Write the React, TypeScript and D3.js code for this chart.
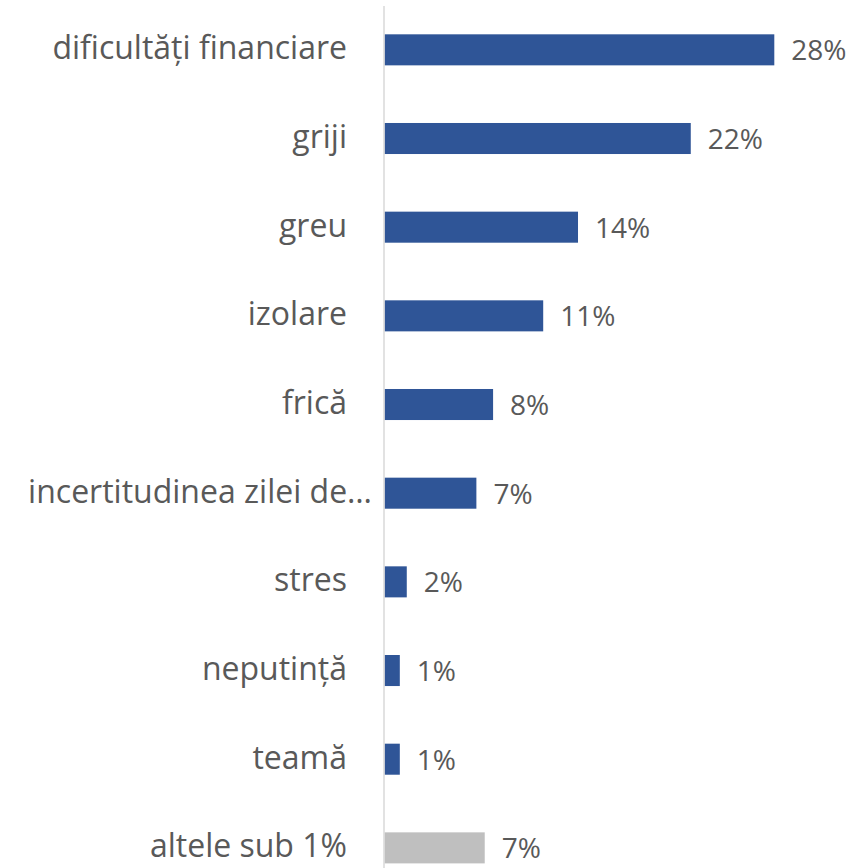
import React from "react";
import * as d3 from "d3";

const categories = [
  "dificultăți financiare",
  "griji",
  "greu",
  "izolare",
  "frică",
  "incertitudinea zilei de…",
  "stres",
  "neputință",
  "teamă",
  "altele sub 1%",
];
const values = [28.0, 22.0, 13.9, 11.4, 7.8, 6.6, 1.6, 1.1, 1.1, 7.2];
const valueLabels = ["28%", "22%", "14%", "11%", "8%", "7%", "2%", "1%", "1%", "7%"];
const isOther = [false, false, false, false, false, false, false, false, false, true];

const W = 849;
const H = 868;

export default function App() {
  const x = d3.scaleLinear().domain([0, 28]).range([384.5, 774.3]);
  const y = d3
    .scaleBand<number>()
    .domain(d3.range(categories.length))
    .range([5.5, 5.5 + 88.67 * categories.length])
    .paddingInner(0.65)
    .paddingOuter(0.325);
  const font = "'Open Sans', sans-serif";
  return (
    <svg
      width={W}
      height={H}
      style={{ position: "absolute", left: 0, top: 0, background: "#fff", fontVariantLigatures: "none" }}
      fontFamily={font}
    >
      {values.map((v, i) => {
        const yc = (y(i) as number) + y.bandwidth() / 2;
        const truncated = categories[i].endsWith("…");
        return (
          <g key={i}>
            <rect
              x={x(0)}
              y={y(i)}
              width={x(v) - x(0)}
              height={y.bandwidth()}
              fill={isOther[i] ? "#BFBFBF" : "#2F5597"}
            />
            <text
              x={x(v) + 17}
              y={yc + 10.5}
              fontSize={28}
              fill="#595959"
            >
              {valueLabels[i]}
            </text>
            <text
              x={truncated ? 372 : 347}
              y={yc + 9.5}
              fontSize={32}
              fill="#595959"
              textAnchor="end"
            >
              {categories[i]}
            </text>
          </g>
        );
      })}
      <line x1={384} x2={384} y1={6} y2={H} stroke="#D9D9D9" strokeWidth={1.5} />
    </svg>
  );
}
